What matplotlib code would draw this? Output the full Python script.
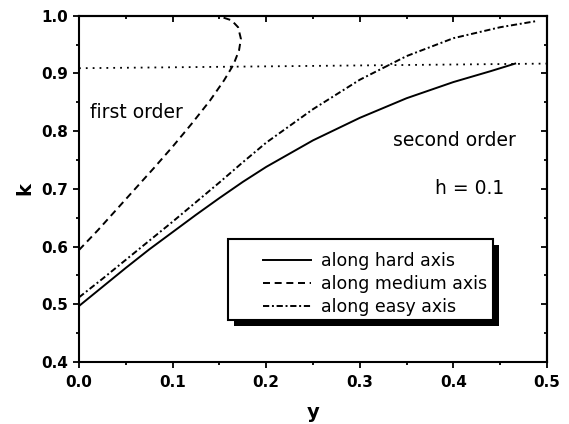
import matplotlib
matplotlib.use("Agg")
import matplotlib.pyplot as plt
from matplotlib.patches import Rectangle
import matplotlib.patheffects as pe

plt.rcParams['font.family'] = ['DejaVu Sans']

# along hard axis (solid)
hard_y = [0.0, 0.025, 0.05, 0.075, 0.1, 0.125, 0.15, 0.175, 0.2, 0.25, 0.3, 0.35, 0.4, 0.44, 0.466]
hard_k = [0.497, 0.530, 0.563, 0.595, 0.625, 0.655, 0.684, 0.712, 0.738, 0.784, 0.823, 0.857, 0.885, 0.904, 0.917]

# along medium axis (dashed)
med_y = [0.0, 0.02, 0.04, 0.06, 0.08, 0.10, 0.12, 0.14, 0.155, 0.165, 0.171, 0.173, 0.170, 0.163, 0.148]
med_k = [0.594, 0.628, 0.664, 0.700, 0.736, 0.773, 0.812, 0.853, 0.888, 0.915, 0.940, 0.960, 0.980, 0.992, 1.0]

# along easy axis (dash-dot)
easy_y = [0.0, 0.025, 0.05, 0.075, 0.1, 0.125, 0.15, 0.175, 0.2, 0.25, 0.3, 0.35, 0.4, 0.45, 0.49]
easy_k = [0.512, 0.544, 0.577, 0.610, 0.643, 0.677, 0.711, 0.746, 0.780, 0.838, 0.889, 0.930, 0.961, 0.980, 0.991]

# dotted reference line
dot_y = [0.0, 0.5]
dot_k = [0.909, 0.917]

labels = ["along hard axis", "along medium axis", "along easy axis"]
xticks = [0.0, 0.1, 0.2, 0.3, 0.4, 0.5]
yticks = [0.4, 0.5, 0.6, 0.7, 0.8, 0.9, 1.0]
xminor = [0.05, 0.15, 0.25, 0.35, 0.45]
yminor = [0.45, 0.55, 0.65, 0.75, 0.85, 0.95]

fig = plt.figure(figsize=(5.69, 4.24), dpi=100)
ax = fig.add_axes([0.1388, 0.1462, 0.8225, 0.8168])

lw = 1.4
ax.plot(hard_y, hard_k, color='black', lw=lw, ls='-', label=labels[0])
ax.plot(med_y, med_k, color='black', lw=lw, ls=(0, (3.6, 2.4)), label=labels[1])
ax.plot(easy_y, easy_k, color='black', lw=lw, ls=(0, (3.2, 1.4, 1.0, 1.4)), label=labels[2])
ax.plot(dot_y, dot_k, color='black', lw=1.3, ls=(0, (1.0, 2.8)))

ax.set_xlim(0, 0.5)
ax.set_ylim(0.4, 1.0)
ax.set_xticks(xticks)
ax.set_yticks(yticks)
ax.set_xticklabels(["%.1f" % v for v in xticks], fontsize=11, fontweight='bold')
ax.set_yticklabels(["%.1f" % v for v in yticks], fontsize=11, fontweight='bold')
ax.set_xticks(xminor, minor=True)
ax.set_yticks(yminor, minor=True)
ax.tick_params(which='major', direction='out', length=4.5, width=1.3)
ax.tick_params(axis='x', which='major', pad=5)
ax.tick_params(axis='y', which='major', pad=3)
ax.tick_params(which='minor', direction='out', length=2.5, width=1.3)

for s in ax.spines.values():
    s.set_linewidth(1.5)

# inward ticks on top and right
top = ax.secondary_xaxis('top')
top.set_xticks(xticks)
top.set_xticks(xminor, minor=True)
top.tick_params(which='major', direction='in', length=4.5, width=1.3, labeltop=False)
top.tick_params(which='minor', direction='in', length=2.5, width=1.3)
top.spines['top'].set_linewidth(1.5)
right = ax.secondary_yaxis('right')
right.set_yticks(yticks)
right.set_yticks(yminor, minor=True)
right.tick_params(which='major', direction='in', length=4.5, width=1.3, labelright=False)
right.tick_params(which='minor', direction='in', length=2.5, width=1.3)
right.spines['right'].set_linewidth(1.5)

ax.set_xlabel("y", fontsize=14, fontweight='bold', labelpad=9)
ax.set_ylabel("k", fontsize=14, fontweight='bold', labelpad=5)

ax.text(0.012, 0.832, "first order", fontsize=13.5, va='center', ha='left')
ax.text(0.335, 0.783, "second order", fontsize=13.5, va='center', ha='left')
ax.text(0.380, 0.700, "h = 0.1", fontsize=13.5, va='center', ha='left')

# legend box with solid black shadow
box = Rectangle((0.318, 0.121), 0.567, 0.234, transform=ax.transAxes,
                facecolor='white', edgecolor='black', lw=1.5, zorder=4)
box.set_path_effects([pe.SimplePatchShadow(offset=(4.3, -4.3), shadow_rgbFace='black', alpha=1.0),
                      pe.Normal()])
ax.add_patch(box)
leg = ax.legend(loc='upper left', bbox_to_anchor=(0.393, 0.318), frameon=False,
                fontsize=12.5, handlelength=2.76, handletextpad=0.58, labelspacing=0.3,
                borderpad=0, borderaxespad=0)
leg.set_zorder(5)

fig.savefig("out.png", dpi=100)
